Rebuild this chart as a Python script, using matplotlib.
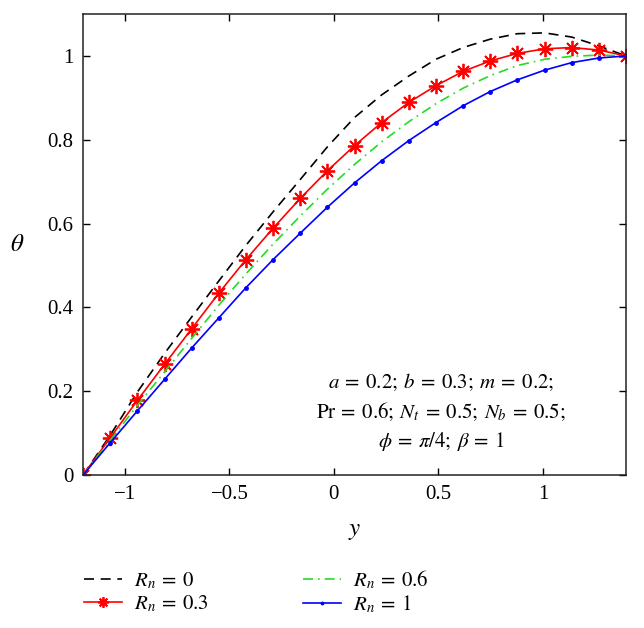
import numpy as np
import matplotlib
matplotlib.use('Agg')
import matplotlib.pyplot as plt
from matplotlib.ticker import FuncFormatter

plt.rcParams['font.family'] = ['Liberation Serif', 'DejaVu Serif']
plt.rcParams['mathtext.fontset'] = 'stix'

# sample positions across the channel (21 points)
y = np.linspace(-1.2, 1.397, 21)

theta_rn0 = [0, 0.095, 0.198, 0.290, 0.377, 0.463, 0.548, 0.628, 0.705, 0.783, 0.853,
             0.907, 0.952, 0.992, 1.020, 1.040, 1.053, 1.055, 1.045, 1.024, 1.0]
theta_rn03 = [0, 0.089, 0.178, 0.264, 0.349, 0.434, 0.514, 0.589, 0.660, 0.726, 0.786,
              0.841, 0.889, 0.929, 0.963, 0.988, 1.006, 1.017, 1.020, 1.014, 1.0]
theta_rn06 = [0, 0.083, 0.166, 0.246, 0.326, 0.405, 0.480, 0.551, 0.618, 0.682, 0.741,
              0.795, 0.843, 0.886, 0.923, 0.953, 0.977, 0.992, 0.999, 1.002, 1.0]
theta_rn1 = [0, 0.077, 0.153, 0.228, 0.303, 0.375, 0.447, 0.514, 0.577, 0.639, 0.697,
             0.750, 0.798, 0.841, 0.881, 0.915, 0.943, 0.966, 0.984, 0.995, 1.0]

fig = plt.figure(figsize=(6.44, 6.28), dpi=100)
ax = fig.add_axes([0.129, 0.2436, 0.843, 0.7341])

ax.plot(y, theta_rn0, 'k--', lw=1.2, dashes=(6, 4), label=r'$R_n\:=\:0$')
ax.plot(y, theta_rn03, color='red', lw=1.2, marker=(8, 2, 0), ms=11, mew=1.3,
        label=r'$R_n\:=\:0.3$')
ax.plot(y, theta_rn06, color='#22dd22', lw=1.2, ls=(0, (6, 3, 1, 3)), label=r'$R_n\:=\:0.6$')
ax.plot(y, theta_rn1, color='blue', lw=1.2, marker='.', ms=5, label=r'$R_n\:=\:1$')

ax.set_xlim(-1.2, 1.397)
ax.set_ylim(0, 1.1)
ax.set_xticks([-1, -0.5, 0, 0.5, 1])
ax.set_yticks([0, 0.2, 0.4, 0.6, 0.8, 1])
fmt = FuncFormatter(lambda v, p: ('%g' % v).replace('-', '\u2212'))
ax.xaxis.set_major_formatter(fmt)
ax.yaxis.set_major_formatter(fmt)
ax.tick_params(direction='in', top=True, right=True, length=5, width=1,
               labelsize=15, pad=7)
for s in ax.spines.values():
    s.set_linewidth(1.1)
    s.set_color('#222222')

ax.set_xlabel(r'$y$', fontsize=18, labelpad=12)
ax.set_ylabel(r'$\theta$', fontsize=18, rotation=0, labelpad=22, va='center')

ax.text(0.66, 0.135,
        '$a\\:=\\:0.2;\\:b\\:=\\:0.3;\\:m\\:=\\:0.2;$\n'
        '$\\mathrm{Pr}\\:=\\:0.6;\\:N_t\\:=\\:0.5;\\:N_b\\:=\\:0.5;$\n'
        '$\\phi\\:=\\:\\pi/4;\\:\\beta\\:=\\:1$',
        transform=ax.transAxes, ha='center', va='center', fontsize=15,
        multialignment='center', linespacing=1.45)

fig.legend(loc='upper left', bbox_to_anchor=(0.102, 0.125), ncol=2, frameon=False,
           fontsize=15, handlelength=1.8, handletextpad=0.6, columnspacing=4.5,
           labelspacing=0.15, markerscale=0.7, numpoints=1)

fig.savefig('out.png', dpi=100)
